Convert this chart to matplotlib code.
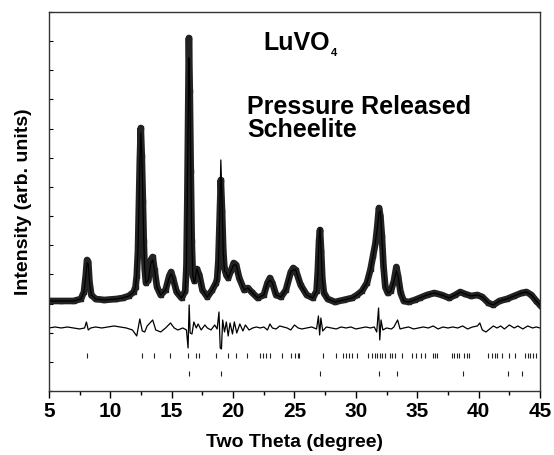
import numpy as np
import matplotlib
matplotlib.use('Agg')
import matplotlib.pyplot as plt
from matplotlib.ticker import MultipleLocator

plt.rcParams['font.family'] = ['Liberation Sans', 'DejaVu Sans']
plt.rcParams['font.weight'] = 'bold'

# observed pattern (two theta, intensity in arb. units)
tt_obs = [5.0, 6.0, 7.0, 7.6, 7.85, 8.0, 8.1, 8.2, 8.3, 8.45,
          8.8, 9.5, 10.5, 11.0, 11.5, 11.9, 12.05, 12.15, 12.25, 12.32,
          12.4, 12.48, 12.56, 12.65, 12.72, 12.8, 12.9, 13.1, 13.3, 13.45,
          13.6, 13.8, 14.1, 14.5, 14.8, 14.95, 15.1, 15.4, 15.8, 16.1,
          16.2, 16.27, 16.33, 16.4, 16.47, 16.55, 16.63, 16.72, 16.85, 17.05,
          17.25, 17.5, 17.9, 18.3, 18.6, 18.7, 18.8, 18.9, 19.0, 19.1,
          19.2, 19.3, 19.45, 19.6, 19.85, 20.05, 20.25, 20.5, 20.9, 21.2,
          21.5, 22.0, 22.5, 22.8, 23.0, 23.2, 23.5, 23.9, 24.3, 24.7,
          24.9, 25.1, 25.5, 26.0, 26.5, 26.8, 26.9, 27.0, 27.08, 27.17,
          27.27, 27.4, 27.7, 28.3, 29.0, 29.7, 30.1, 30.5, 30.9, 31.2,
          31.4, 31.6, 31.75, 31.88, 32.0, 32.12, 32.25, 32.4, 32.6, 32.85,
          33.1, 33.3, 33.45, 33.65, 33.9, 34.3, 34.8, 35.2, 35.8, 36.4,
          37.0, 37.6, 38.1, 38.5, 38.9, 39.4, 39.9, 40.3, 40.8, 41.2,
          41.7, 42.3, 42.9, 43.5, 43.9, 44.3, 44.7, 45.0]
i_obs = [90, 90, 90, 92, 99, 116, 131, 129, 109, 96,
         92, 91, 92, 93, 95, 99, 104, 115, 140, 180,
         230, 263, 235, 190, 150, 122, 108, 111, 131, 134,
         121, 104, 96, 101, 115, 119, 113, 99, 93, 100,
         125, 190, 270, 353, 300, 220, 150, 115, 110, 122,
         116, 101, 94, 101, 108, 112, 130, 170, 211, 180,
         140, 122, 116, 113, 121, 128, 126, 113, 101, 103,
         99, 93, 96, 108, 113, 108, 96, 94, 101, 119,
         123, 121, 106, 96, 93, 100, 120, 150, 161, 140,
         112, 98, 92, 89, 91, 93, 96, 100, 108, 122,
         135, 148, 165, 183, 175, 155, 125, 104, 98, 100,
         110, 124, 114, 98, 90, 89, 91, 93, 96, 98,
         96, 93, 96, 99, 97, 95, 96, 94, 88, 86,
         90, 92, 95, 98, 99, 96, 90, 86]
# calculated pattern on the same points
i_calc = [90, 90, 90, 92, 99, 114, 128, 127, 109, 96,
          92, 91, 92, 93, 95, 99, 104, 117, 142, 178,
          225, 258, 238, 192, 150, 122, 108, 111, 128, 131,
          121, 104, 96, 101, 113, 117, 113, 99, 93, 100,
          127, 205, 262, 333, 302, 222, 152, 115, 108, 122,
          114, 101, 94, 101, 108, 112, 126, 168, 231, 190,
          138, 120, 118, 113, 121, 126, 126, 113, 101, 103,
          99, 93, 96, 108, 111, 108, 96, 94, 101, 119,
          121, 121, 106, 96, 93, 100, 116, 152, 163, 138,
          112, 98, 92, 89, 91, 93, 96, 100, 108, 122,
          135, 150, 163, 178, 180, 152, 125, 104, 98, 100,
          110, 120, 114, 98, 90, 89, 91, 93, 96, 98,
          96, 93, 96, 99, 97, 95, 96, 94, 88, 86,
          90, 92, 95, 98, 99, 96, 90, 86]

# difference (obs - calc), drawn shifted below the pattern
tt_diff = [5.0, 5.5, 6.0, 6.5, 7.0, 7.5, 7.9, 8.05, 8.2, 8.4,
           8.8, 9.3, 9.8, 10.3, 10.8, 11.3, 11.8, 12.15, 12.4, 12.6,
           12.8, 13.0, 13.45, 13.7, 14.1, 14.5, 14.9, 15.2, 15.5, 15.9,
           16.2, 16.33, 16.42, 16.5, 16.65, 16.8, 17.0, 17.15, 17.4, 17.7,
           17.9, 18.2, 18.5, 18.7, 18.85, 18.95, 19.05, 19.15, 19.3, 19.45,
           19.6, 19.75, 19.95, 20.1, 20.3, 20.55, 20.8, 21.0, 21.3, 21.6,
           21.9, 22.2, 22.5, 22.8, 23.0, 23.2, 23.5, 23.8, 24.1, 24.4,
           24.7, 25.0, 25.3, 25.6, 26.0, 26.4, 26.8, 26.95, 27.05, 27.15,
           27.3, 27.6, 28.0, 28.4, 28.8, 29.2, 29.6, 30.0, 30.4, 30.8,
           31.2, 31.5, 31.7, 31.85, 31.95, 32.05, 32.2, 32.5, 32.9, 33.1,
           33.4, 33.6, 33.9, 34.3, 34.7, 35.1, 35.5, 35.9, 36.3, 36.7,
           37.1, 37.5, 37.9, 38.3, 38.7, 39.1, 39.5, 39.9, 40.1, 40.3,
           40.6, 40.9, 41.2, 41.5, 41.8, 42.1, 42.5, 42.9, 43.2, 43.6,
           44.0, 44.4, 44.7, 45.0]
diff = [0, 1, 0, 1, 0, -1, 0, 6, -2, 0,
        1, 0, 1, 2, 1, 0, -2, -8, 9, -3,
        -4, 2, 8, -2, -4, 0, 5, 0, -2, 0,
        -2, -20, 23, -5, -6, 6, 0, 4, -2, 3,
        0, -2, 3, -1, 16, -20, -21, 8, -4, 6,
        -8, 5, -6, 6, -5, 4, -3, 3, -2, 0,
        1, 0, 1, -2, 4, 0, -1, 2, 1, 0,
        -2, 3, 0, -1, 0, 1, -1, 12, -7, 10,
        -3, 1, 0, -1, 1, 0, 1, -1, 0, 1,
        0, 1, -4, 20, -12, 8, -2, 0, -1, 1,
        8, -1, 0, 1, -1, 0, 1, 0, 2, -1,
        1, 0, 1, 0, 2, -1, 1, 2, 5, -2,
        -4, -1, 2, 0, 2, -1, 3, 0, 2, -1,
        2, 0, 1, 0]
diff_offset = 63

# Bragg reflection positions
refl_scheelite = [8.12, 12.55, 13.55, 14.9, 16.35, 17.0, 17.25, 18.6, 19.6, 20.23,
                  21.17, 22.2, 22.4, 22.7, 23.0, 23.95, 24.68, 25.08, 25.26, 25.4,
                  27.33, 28.35, 28.98, 29.2, 29.45, 29.66, 30.1, 30.95, 31.33, 31.55,
                  31.76, 31.98, 32.15, 32.4, 32.8, 32.97, 33.18, 33.78, 34.56, 34.9,
                  35.3, 35.6, 36.25, 36.45, 36.63, 37.82, 38.02, 38.22, 38.43, 38.82,
                  39.02, 39.22, 40.8, 41.1, 41.3, 41.5, 41.87, 42.5, 42.95, 43.8,
                  44.02, 44.22, 44.44, 44.66]
refl_second = [16.43, 19.01, 27.1, 31.91, 33.35, 38.73, 42.37, 43.53]

assert len(tt_obs) == len(i_obs) == len(i_calc)
assert len(tt_diff) == len(diff)

fig = plt.figure(figsize=(5.54, 4.55), dpi=100)
ax = fig.add_axes([0.0884, 0.1407, 0.8863, 0.833])

ax.plot(tt_obs, i_obs, '-', color='#222222', lw=4.8, solid_joinstyle='round')
ax.plot(tt_obs, i_obs, 's', color='#222222', ms=3.4)
ax.plot(tt_obs, i_calc, '-', color='black', lw=0.9)
ax.plot(tt_diff, np.array(diff) + diff_offset, '-', color='black', lw=0.9)

ax.vlines(refl_scheelite, 33, 38, color='#222222', lw=0.8)
ax.vlines(refl_second, 15, 20, color='#222222', lw=0.8)

ax.text(22.43, 341, 'LuVO', fontsize=18, fontweight='bold')
ax.text(27.97, 335, '4', fontsize=8, fontweight='bold')
# baseline of the last line ("Scheelite")
ax.text(21.13, 254, 'Pressure Released\nScheelite', fontsize=18,
        fontweight='bold', va='baseline', linespacing=0.95)

ax.set_xlim(5, 45)
ax.set_ylim(0, 379)
ax.xaxis.set_major_locator(MultipleLocator(5))
ax.xaxis.set_minor_locator(MultipleLocator(2.5))
ax.yaxis.set_major_locator(MultipleLocator(29.15))
ax.tick_params(axis='x', which='major', direction='out', length=5, width=1,
               labelsize=15, pad=3)
ax.tick_params(axis='x', which='minor', direction='out', length=3, width=1)
ax.tick_params(axis='y', direction='in', length=3, width=0.8, labelleft=False)
for lab in ax.get_xticklabels():
    lab.set_fontweight('bold')
for sp in ax.spines.values():
    sp.set_color('#333333')
    sp.set_linewidth(1.0)

ax.set_xlabel('Two Theta (degree)', fontsize=14, fontweight='bold', labelpad=9)
ax.set_ylabel('Intensity (arb. units)', fontsize=14, fontweight='bold', labelpad=12)

fig.savefig('out.png', dpi=100)
